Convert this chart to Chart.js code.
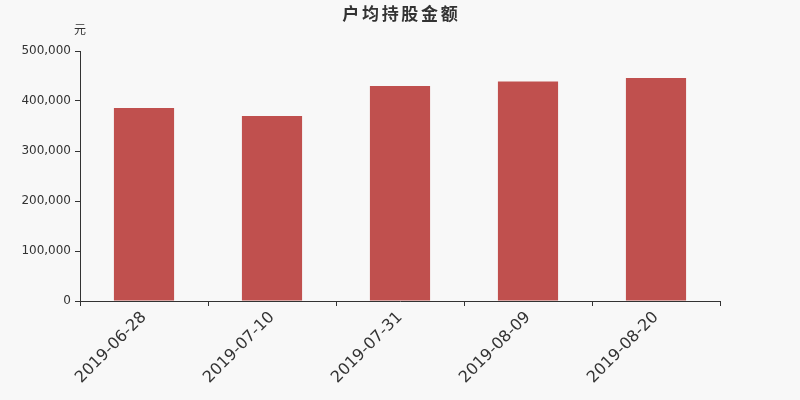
<!DOCTYPE html>
<html>
<head>
<meta charset="utf-8">
<script src="https://cdn.jsdelivr.net/npm/chart.js@4/dist/chart.umd.min.js"></script>
<style>
html,body{margin:0;padding:0;background:#f8f8f8;}
#wrap{width:800px;height:400px;}
</style>
</head>
<body>
<div id="wrap"><canvas id="c" width="800" height="400"></canvas></div>
<script>
const titleText = "户均持股金额";
const unitText = "元";
const categories = ["2019-06-28", "2019-07-10", "2019-07-31", "2019-08-09", "2019-08-20"];
const values = [386000, 370000, 430000, 439000, 446000];
const yTicks = [0, 100000, 200000, 300000, 400000, 500000];

const bgPlugin = {
  id: 'bg',
  beforeDraw(chart) {
    const ctx = chart.ctx;
    ctx.save();
    ctx.fillStyle = '#f8f8f8';
    ctx.fillRect(0, 0, chart.width, chart.height);
    ctx.restore();
  },
  afterDraw(chart) {
    const ctx = chart.ctx;
    ctx.save();
    ctx.fillStyle = '#333';
    ctx.font = 'bold 17px "Noto Sans CJK SC", sans-serif';
    ctx.textBaseline = 'middle';
    ctx.textAlign = 'center';
    const pitch = 19.7;
    const n = titleText.length;
    const startX = 400 - pitch * (n - 1) / 2;
    for (let i = 0; i < n; i++) {
      ctx.fillText(titleText[i], startX + i * pitch, 14);
    }
    ctx.font = '12px "Noto Sans CJK SC", sans-serif';
    ctx.fillText(unitText, 80, 29);
    ctx.restore();
  }
};

new Chart(document.getElementById('c'), {
  type: 'bar',
  data: {
    labels: categories,
    datasets: [{
      data: values,
      backgroundColor: '#c0504e',
      borderWidth: 0,
      barPercentage: 0.47,
      categoryPercentage: 1.0
    }]
  },
  options: {
    responsive: false,
    animation: false,
    devicePixelRatio: 1,
    layout: { padding: { left: 0, top: 51, right: 80, bottom: 0 } },
    plugins: { legend: { display: false }, tooltip: { enabled: false }, title: { display: false } },
    scales: {
      x: {
        offset: true,
        grid: { display: true, drawOnChartArea: false, drawTicks: true, tickLength: 5, offset: true, color: '#333', lineWidth: 1 },
        border: { display: true, color: '#333', width: 1 },
        ticks: {
          color: '#333',
          font: { family: 'DejaVu Sans', size: 16 },
          minRotation: 45, maxRotation: 45,
          padding: 2,
          autoSkip: false
        },
        afterFit(scale) { scale.height = 99; }
      },
      y: {
        min: 0, max: 500000,
        afterBuildTicks(scale) { scale.ticks = yTicks.map(v => ({ value: v })); },
        grid: { display: true, drawOnChartArea: false, drawTicks: true, tickLength: 5, color: '#333', lineWidth: 1 },
        border: { display: true, color: '#333', width: 1 },
        ticks: {
          color: '#333',
          font: { family: 'DejaVu Sans', size: 12 },
          padding: 4,
          callback: v => v.toLocaleString('en-US')
        },
        afterFit(scale) { scale.width = 80; }
      }
    }
  },
  plugins: [bgPlugin]
});
</script>
</body>
</html>
